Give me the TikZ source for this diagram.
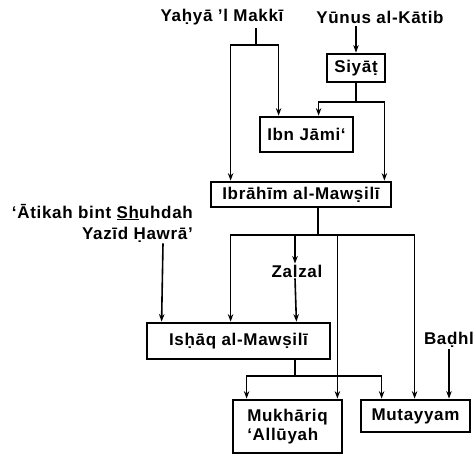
\documentclass[tikz,border=0pt]{standalone}
\usepackage{fontspec}
\setmainfont{Liberation Sans}[LetterSpace=4]
\usetikzlibrary{calc,arrows.meta}
\tikzset{>={Stealth[length=7.5pt,width=5.5pt]}}
\tikzset{
  person/.style={draw,line width=2.8pt,inner sep=0pt,font=\bfseries\fontsize{17}{19}\selectfont},
  freename/.style={inner sep=1pt,font=\bfseries\fontsize{17}{21}\selectfont},
  line/.style={line width=1.6pt},
  arr/.style={line,->}
}

\begin{document}
\begin{tikzpicture}[x=1pt,y=-1pt]
          \useasboundingbox (0,0) rectangle (473,456);
          % names without box
          \node[freename] (yahya) at (222,17) {Yaḥyā ’l Makkī};
          \node[freename] (yunus) at (380,17) {Yūnus al-Kātib};
          \node[freename,align=right,anchor=east] (atikah) at (194,223)
            {‘Ātikah bint \underline{Sh}uhdah\\Yazīd Ḥawrā’};
          \node[freename] (zalzal) at (297,271) {Zalzal};
          \node[freename] (badhl) at (449,340) {Baḍhl};
          % boxes
          \node[person,minimum width=58,minimum height=28] (siyat) at (356,68) {Siyāṭ};
          \node[person,minimum width=93,minimum height=35] (ibnjami) at (306.5,134.5) {Ibn Jāmi‘};
          \node[person,minimum width=180,minimum height=25] (ibrahim) at (301,194.5) {Ibrāhīm al-Mawṣilī};
          \node[person,minimum width=183,minimum height=36] (ishaq) at (238.5,341) {Isḥāq al-Mawṣilī};
          \node[person,minimum width=109,minimum height=53,align=left] (mukhariq) at (287.5,426.5)
            {Mukhāriq\\‘Allūyah};
          \node[person,minimum width=109,minimum height=32] (mutayyam) at (415.5,416) {Mutayyam};
          % junctions
          \coordinate (j1) at (256,45);
          \coordinate (j2) at (356,102);
          \coordinate (j3) at (318,235);
          \coordinate (j4) at (295,376);
          \coordinate (c1) at (163,0);
          \begin{scope}[line]
            \draw ($(yahya.south -| j1)+(0,2)$) -- (j1);
            \draw (siyat.south) -- (j2);
            \draw (ibrahim.south -| j3) -- (j3);
            \draw (ishaq.south -| j4) -- (j4);
          \end{scope}
          \begin{scope}[arr]
            \draw (j1) -| ([xshift=21]ibrahim.north west);
            \draw (j1) -| ([xshift=20]ibnjami.north west);
            \draw ($(yunus.south -| siyat.north)+(0,2)$) -- (siyat.north);
            \draw (j2) -| ([xshift=60]ibnjami.north west);
            \draw (j2) -| ([xshift=-8]ibrahim.north east);
            \draw (j3) -| ([xshift=85]ishaq.north west);
            \draw (j3) -| ($(zalzal.north)+(-2,0)$);
            \draw (j3) -| ([xshift=-6]mukhariq.north east);
            \draw (j3) -| ([xshift=55]mutayyam.north west);
            \draw ($(zalzal.south)+(-2,0)$) -- ([xshift=-35]ishaq.north east);
            \draw (atikah.south -| c1) -- ([xshift=16]ishaq.north west);
            \draw (j4) -| ([xshift=15]mukhariq.north west);
            \draw (j4) -| ([xshift=22]mutayyam.north west);
            \draw (badhl.south) -- (badhl.south |- mutayyam.north);
          \end{scope}
        \end{tikzpicture}
\end{document}
